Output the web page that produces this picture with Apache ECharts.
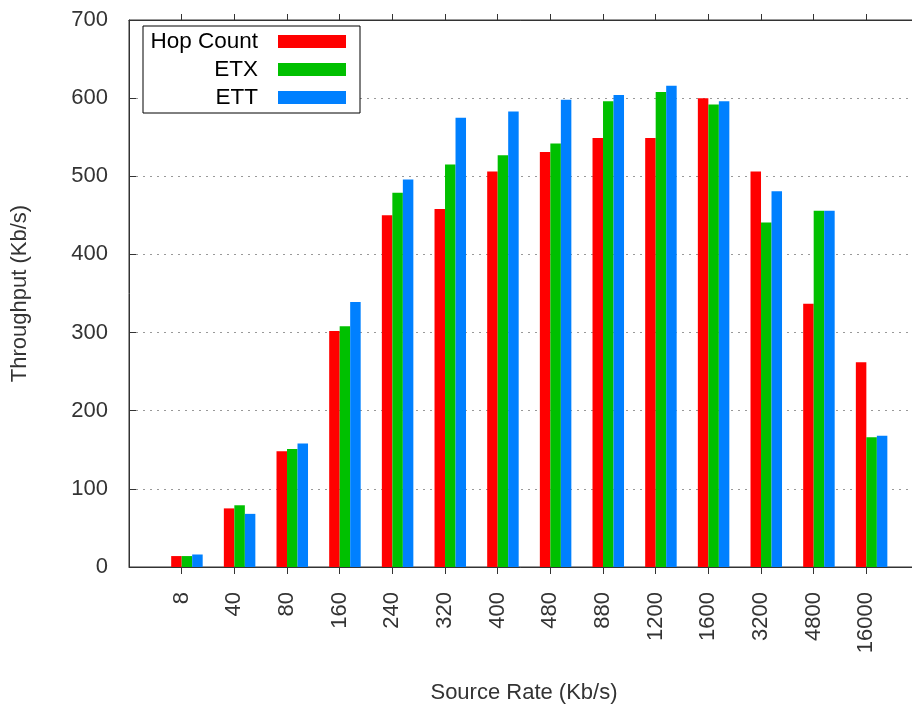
<!DOCTYPE html>
<html>
<head>
<meta charset="utf-8">
<script src="https://cdn.jsdelivr.net/npm/echarts@6/dist/echarts.min.js"></script>
<style>
  html, body { margin: 0; padding: 0; background: #fff; }
  #chart { width: 912px; height: 704px; }
</style>
</head>
<body>
<div id="chart"></div>
<script>
// source rates, padded with an empty slot at each end like the original plot
const rates = ['8', '40', '80', '160', '240', '320', '400', '480', '880', '1200', '1600', '3200', '4800', '16000'];
const hopCount = [14, 75, 148, 302, 450, 458, 506, 531, 549, 549, 600, 506, 337, 262];
const etx = [14, 79, 151, 308, 479, 515, 527, 542, 596, 608, 592, 441, 456, 166];
const ett = [16, 68, 158, 339, 496, 575, 583, 598, 604, 616, 596, 481, 456, 168];
const yTicks = [0, 100, 200, 300, 400, 500, 600, 700];

const slots = [''].concat(rates, ['']);
const font = 'Liberation Sans, Arial, sans-serif';
const axisColor = '#333';
const onlyRates = (idx) => idx > 0 && idx < slots.length - 1;

const barSeries = (name, values, color) => ({
  name: name,
  type: 'bar',
  xAxisIndex: 2,
  barWidth: 10.5,
  barGap: '0%',
  itemStyle: { color: color },
  data: values.map((v, i) => [i, v])
});

const chart = echarts.init(document.getElementById('chart'), null, { renderer: 'canvas' });
chart.setOption({
  animation: false,
  textStyle: { fontFamily: font },
  grid: {
    left: 129, top: 20, bottom: 137, right: -7,
    outerBoundsMode: 'none',
    show: true, borderColor: axisColor, borderWidth: 1
  },
  legend: {
    orient: 'vertical',
    left: 143,
    top: 26,
    align: 'right',
    icon: 'rect',
    itemWidth: 68,
    itemHeight: 13,
    itemGap: 5,
    padding: [4, 14, 4, 5],
    borderColor: '#000',
    borderWidth: 1,
    backgroundColor: '#fff',
    selectedMode: false,
    formatter: (name) => '{n|' + name + '}',
    textStyle: {
      rich: {
        n: { width: 110, align: 'right', fontSize: 22.5, lineHeight: 24, color: '#000', padding: [0, 15, 0, 0], fontFamily: font }
      }
    },
    data: ['Hop Count', 'ETX', 'ETT']
  },
  xAxis: [{
    type: 'category',
    data: slots,
    boundaryGap: false,
    name: 'Source Rate (Kb/s)',
    nameLocation: 'middle',
    nameGap: 115,
    nameTextStyle: { fontSize: 22, color: axisColor },
    axisLine: { lineStyle: { color: axisColor, width: 1 } },
    axisTick: { length: 7, interval: onlyRates, lineStyle: { color: axisColor } },
    axisLabel: { rotate: 90, margin: 25, fontSize: 22, color: axisColor, interval: onlyRates }
  }, {
    type: 'category',
    data: slots,
    boundaryGap: false,
    position: 'top',
    axisLine: { lineStyle: { color: axisColor, width: 1 } },
    axisTick: { length: 6, interval: onlyRates, lineStyle: { color: axisColor } },
    axisLabel: { show: false }
  }, {
    type: 'value',
    min: -1.1,
    max: 13.9,
    show: false
  }],
  yAxis: {
    type: 'value',
    min: yTicks[0],
    max: yTicks[yTicks.length - 1],
    interval: 100,
    name: 'Throughput (Kb/s)',
    nameLocation: 'middle',
    nameGap: 98,
    nameTextStyle: { fontSize: 22, color: axisColor },
    axisLine: { show: true, onZero: false, lineStyle: { color: axisColor, width: 1 } },
    axisTick: { show: true, inside: true, length: 7, lineStyle: { color: axisColor } },
    axisLabel: { margin: 21, fontSize: 22, color: axisColor },
    splitLine: { lineStyle: { color: '#999', type: [2, 5], width: 1 } }
  },
  series: [
    barSeries('Hop Count', hopCount, '#ff0000'),
    barSeries('ETX', etx, '#00c000'),
    barSeries('ETT', ett, '#0080ff')
  ]
});
</script>
</body>
</html>
